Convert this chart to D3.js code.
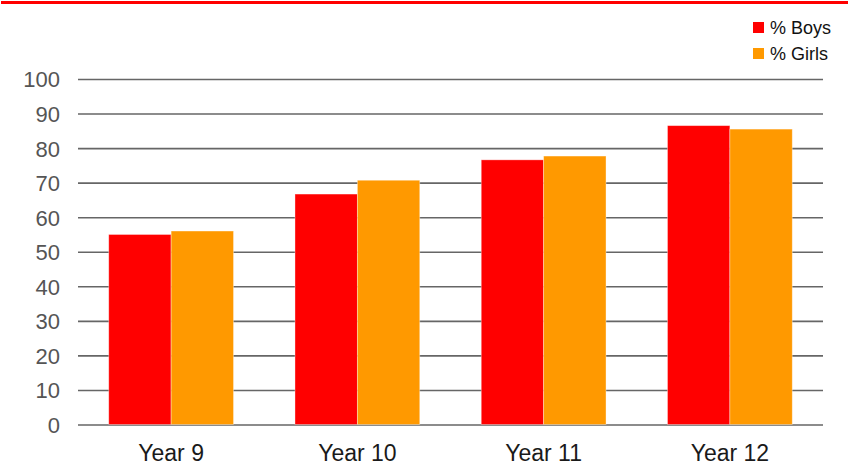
<!DOCTYPE html>
<html><head><meta charset="utf-8">
<script src="https://cdn.jsdelivr.net/npm/d3@7"></script>
<style>body{margin:0;background:#fff}svg{display:block;font-family:"Liberation Sans",Arial,sans-serif}</style>
</head><body>
<svg id="c" width="850" height="467"></svg>
<script>
const categories = ["Year 9", "Year 10", "Year 11", "Year 12"];
const seriesNames = ["% Boys", "% Girls"];
const boys = [55.0, 66.7, 76.6, 86.5];
const girls = [56.0, 70.7, 77.7, 85.5];
const yTicks = [0, 10, 20, 30, 40, 50, 60, 70, 80, 90, 100];
const colors = ["#ff0000", "#ff9900"];

(function () {
const svg = d3.select("#c");
const mLeft = 78, mRight = 823, mTop = 79, mBottom = 424.5;

// top red rule
svg.append("line").attr("x1", 1).attr("x2", 848).attr("y1", 2.5).attr("y2", 2.5)
  .attr("stroke", "#ff0000").attr("stroke-width", 3);

const x0 = d3.scaleBand().domain(categories).range([mLeft, mRight]).paddingInner(0.33).paddingOuter(0.165);
const x1 = d3.scaleBand().domain(seriesNames).range([0, x0.bandwidth()]);
const y = d3.scaleLinear().domain([0, 100]).range([mBottom, mTop]);

// gridlines + y labels
const yAxis = d3.axisLeft(y).tickValues(yTicks).tickSize(-(mRight - mLeft)).tickPadding(18);
const gy = svg.append("g").attr("transform", `translate(${mLeft},0)`).call(yAxis);
gy.select(".domain").remove();
gy.selectAll(".tick line").attr("stroke", "#666").attr("stroke-width", 1.6);
gy.selectAll(".tick text").attr("fill", "#555").attr("font-size", 22).attr("dy", "0.36em");

// bars
const data = categories.map((c, i) => ({cat: c, vals: [boys[i], girls[i]]}));
const g = svg.append("g");
data.forEach(d => {
  d.vals.forEach((v, j) => {
    g.append("rect")
      .attr("x", x0(d.cat) + x1(seriesNames[j]))
      .attr("y", y(v))
      .attr("width", x1.bandwidth())
      .attr("height", y(0) - y(v))
      .attr("fill", colors[j])
      .attr("stroke", "rgba(255,255,255,0.45)").attr("stroke-width", 0.8);
  });
});

// x labels
const xAxis = d3.axisBottom(x0).tickSize(0).tickPadding(20.5);
const gx = svg.append("g").attr("transform", `translate(0,${mBottom})`).call(xAxis);
gx.select(".domain").remove();
gx.selectAll(".tick text").attr("fill", "#1a1a1a").attr("font-size", 23);

// legend
const lg = svg.append("g");
seriesNames.forEach((s, i) => {
  const yy = 22 + i * 26;
  lg.append("rect").attr("x", 753).attr("y", yy).attr("width", 11).attr("height", 11).attr("fill", colors[i]);
  lg.append("text").attr("x", 770).attr("y", yy + 12).attr("font-size", 18).attr("fill", "#111").text(s);
});
})();
</script>
</body></html>
